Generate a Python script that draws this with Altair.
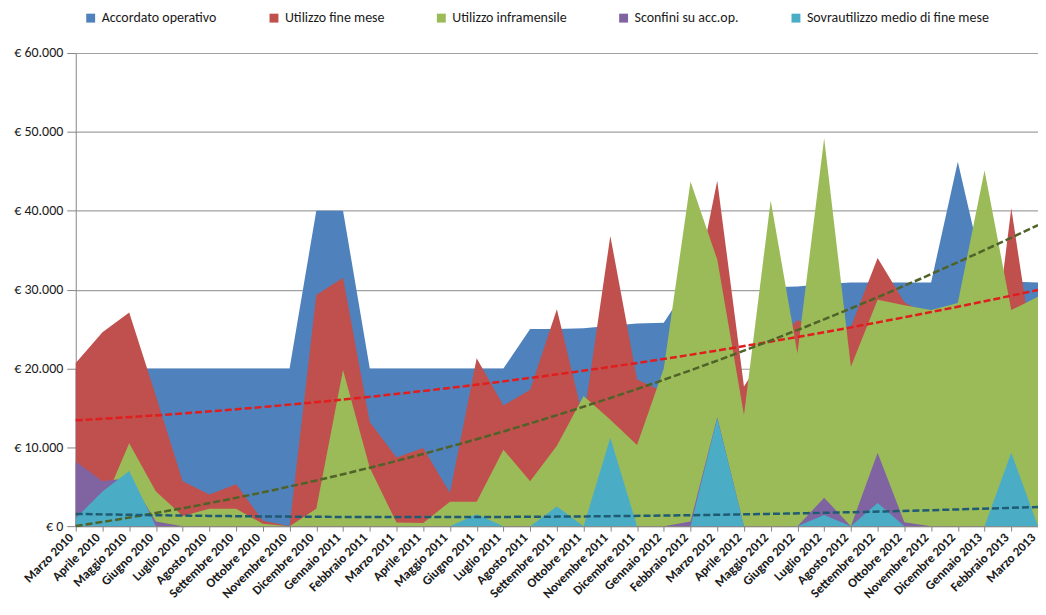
import altair as alt
import pandas as pd

months = ["Marzo 2010", "Aprile 2010", "Maggio 2010", "Giugno 2010", "Luglio 2010", "Agosto 2010",
          "Settembre 2010", "Ottobre 2010", "Novembre 2010", "Dicembre 2010", "Gennaio 2011",
          "Febbraio 2011", "Marzo 2011", "Aprile 2011", "Maggio 2011", "Giugno 2011", "Luglio 2011",
          "Agosto 2011", "Settembre 2011", "Ottobre 2011", "Novembre 2011", "Dicembre 2011",
          "Gennaio 2012", "Febbraio 2012", "Marzo 2012", "Aprile 2012", "Maggio 2012", "Giugno 2012",
          "Luglio 2012", "Agosto 2012", "Settembre 2012", "Ottobre 2012", "Novembre 2012",
          "Dicembre 2012", "Gennaio 2013", "Febbraio 2013", "Marzo 2013"]

accordato = [20000, 20000, 20000, 20000, 20000, 20000, 20000, 20000, 20000, 40000,
             40000, 20000, 20000, 20000, 20000, 20000, 20000, 25000, 25000, 25100,
             25400, 25700, 25800, 31000, 30500, 15000, 30300, 30400, 30700, 30900,
             30900, 30900, 30900, 46200, 31500, 31000, 30900]
utilizzo = [20700, 24600, 27100, 16500, 5700, 4000, 5300, 700, 0, 29300,
            31500, 13200, 8700, 9900, 4200, 21300, 15300, 17300, 27500, 13500,
            36800, 18600, 17000, 27000, 43800, 17700, 23000, 26100, 25000, 25300,
            34000, 28400, 26500, 27000, 13000, 40300, 18000]
inframensile = [2000, 2600, 10500, 4400, 1300, 2200, 2200, 300, 0, 2200,
                19800, 7400, 450, 400, 3100, 3100, 9700, 5700, 10200, 16500,
                13500, 10300, 20000, 43700, 33800, 14100, 41300, 21900, 49200, 20200,
                28700, 28000, 27400, 28300, 45100, 27400, 29100]
sconfini = [8200, 5700, 6100, 600, 0, 0, 0, 0, 0, 0,
            0, 0, 0, 0, 0, 0, 0, 0, 0, 0,
            0, 0, 0, 600, 13800, 0, 0, 0, 3600, 0,
            9300, 500, 0, 0, 0, 0, 0]
sovra = [1000, 4400, 7000, 0, 0, 0, 0, 0, 0, 0,
         0, 0, 0, 0, 0, 1500, 0, 0, 2500, 0,
         11200, 0, 0, 0, 13700, 0, 0, 0, 1400, 0,
         2950, 0, 0, 0, 0, 9300, 0]

series_names = ["Accordato operativo", "Utilizzo fine mese", "Utilizzo inframensile",
                "Sconfini su acc.op.", "Sovrautilizzo medio di fine mese"]
series_colors = ["#4F81BD", "#C0504D", "#9BBB59", "#8064A2", "#4BACC6"]
series_values = [accordato, utilizzo, inframensile, sconfini, sovra]

trend_series = ["Utilizzo fine mese", "Utilizzo inframensile", "Sovrautilizzo medio di fine mese"]
trend_colors = ["#E01E1E", "#4F6228", "#1F5B73"]

y_ticks = [0, 10000, 20000, 30000, 40000, 50000, 60000]

rows = []
for name, vals in zip(series_names, series_values):
    for i, v in enumerate(vals):
        rows.append({"idx": i, "mese": months[i], "serie": name, "valore": v})
df = pd.DataFrame(rows)

FONT = "Carlito, Lato, 'Open Sans', sans-serif"
label_expr = "[" + ",".join("'%s'" % m for m in months) + "][datum.value]"

x_enc = alt.X("idx:Q",
              scale=alt.Scale(domain=[0, len(months) - 1], nice=False, zero=False),
              axis=alt.Axis(values=list(range(len(months))), labelExpr=label_expr,
                            labelAngle=-45, labelAlign="right", labelBaseline="middle",
                            labelOffset=-5,
                            grid=False, title=None, tickSize=5,
                            labelFontWeight="bold", labelFontSize=13, labelPadding=4,
                            labelColor="#1a1a1a", tickColor="#868686", domainColor="#868686",
                            labelFont=FONT, labelOverlap=False))
y_enc = alt.Y("valore:Q", stack=None,
              scale=alt.Scale(domain=[0, 60000], nice=False),
              axis=alt.Axis(values=y_ticks, title=None, grid=True, gridColor="#A0A0A0",
                            gridWidth=1.2, tickSize=9, tickColor="#868686",
                            domainColor="#868686", labelPadding=4, labelFontSize=14,
                            labelColor="#1a1a1a", labelFont=FONT,
                            labelExpr="'€ ' + replace(format(datum.value, ','), ',', '.')"))
color_enc = alt.Color("serie:N",
                      scale=alt.Scale(domain=series_names, range=series_colors),
                      legend=alt.Legend(title=None, orient="none", legendX=8, legendY=-42,
                                        direction="horizontal", symbolType="square",
                                        symbolSize=80, symbolStrokeWidth=0,
                                        labelFontSize=14, labelFont=FONT, labelColor="#1a1a1a",
                                        columnPadding=50, labelOffset=4, labelLimit=400))

layers = []
for name in series_names:
    layers.append(
        alt.Chart(df).transform_filter(alt.datum.serie == name)
        .mark_area(opacity=1, interpolate="linear")
        .encode(x=x_enc, y=y_enc, color=color_enc)
    )
for name, col in zip(trend_series, trend_colors):
    layers.append(
        alt.Chart(df).transform_filter(alt.datum.serie == name)
        .transform_regression("idx", "valore", method="poly", order=2,
                              extent=[0, len(months) - 1])
        .mark_line(color=col, strokeDash=[7, 3], strokeWidth=2.5)
        .encode(x=x_enc, y=y_enc)
    )

chart = alt.layer(*layers).properties(
    width=966, height=475,
    autosize=alt.AutoSizeParams(type="none"),
    padding={"left": 68, "top": 44, "right": 0, "bottom": 80},
    background="white",
).configure_view(stroke=None)

chart.save("out.html", embed_options={"renderer": "svg", "actions": False})
